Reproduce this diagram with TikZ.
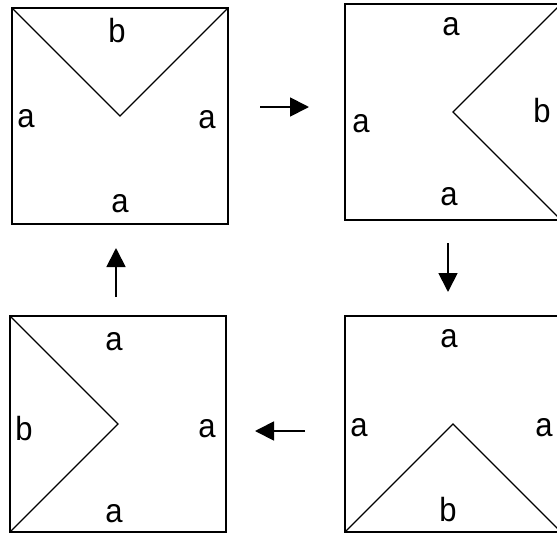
\documentclass[tikz,border=0pt]{standalone}
\usepackage{fontspec}
\setmainfont{Liberation Sans}
\usetikzlibrary{arrows.meta}
\begin{document}
\begin{tikzpicture}[x=1pt,y=-1pt,
  sq/.style={draw=black,line width=1.8pt,minimum width=216pt,minimum height=216pt,inner sep=0pt,outer sep=0pt},
  diag/.style={draw=black,line width=1.2pt},
  lbl/.style={font=\fontsize{31}{31}\selectfont,inner sep=0pt,anchor=center,yscale=1.08},
  arr/.style={-{Triangle[length=19pt,width=19pt]},line width=1.8pt}]
\path[use as bounding box,clip] (0,0) rectangle (557,533);
\fill[white] (0,0) rectangle (557,533);
% squares
\node[sq] (s1) at (120,116) {};
\node[sq] (s2) at (453,112) {};
\node[sq] (s3) at (118,424) {};
\node[sq] (s4) at (453,424) {};
% folds
\draw[diag] (s1.north west) -- (s1.center) -- (s1.north east);
\draw[diag] (s2.north east) -- (s2.center) -- (s2.south east);
\draw[diag] (s3.north west) -- (s3.center) -- (s3.south west);
\draw[diag] (s4.south west) -- (s4.center) -- (s4.south east);
% labels square 1
\node[lbl] (l1t) at (117,31) {b};
\node[lbl] (l1l) at (26,119) {a};
\node[lbl] (l1r) at (207,120) {a};
\node[lbl] (l1b) at (120,204) {a};
% labels square 2
\node[lbl] (l2t) at (451,27) {a};
\node[lbl] (l2l) at (361,124) {a};
\node[lbl] (l2r) at (542,111) {b};
\node[lbl] (l2b) at (449,197) {a};
% labels square 3
\node[lbl] (l3t) at (114,342) {a};
\node[lbl] (l3l) at (24,429) {b};
\node[lbl] (l3r) at (207,429) {a};
\node[lbl] (l3b) at (114,514) {a};
% labels square 4
\node[lbl] (l4t) at (449,339) {a};
\node[lbl] (l4l) at (359,428) {a};
\node[lbl] (l4r) at (544,428) {a};
\node[lbl] (l4b) at (448,510) {b};
% arrows
\coordinate (a1s) at (260,107);
\coordinate (a1e) at (309,107);
\coordinate (a2s) at (448,243);
\coordinate (a2e) at (448,292);
\coordinate (a3s) at (305,431);
\coordinate (a3e) at (255,431);
\coordinate (a4s) at (116,297);
\coordinate (a4e) at (116,248);
\draw[arr] (a1s) -- (a1e);
\draw[arr] (a2s) -- (a2e);
\draw[arr] (a3s) -- (a3e);
\draw[arr] (a4s) -- (a4e);
\end{tikzpicture}
\end{document}
